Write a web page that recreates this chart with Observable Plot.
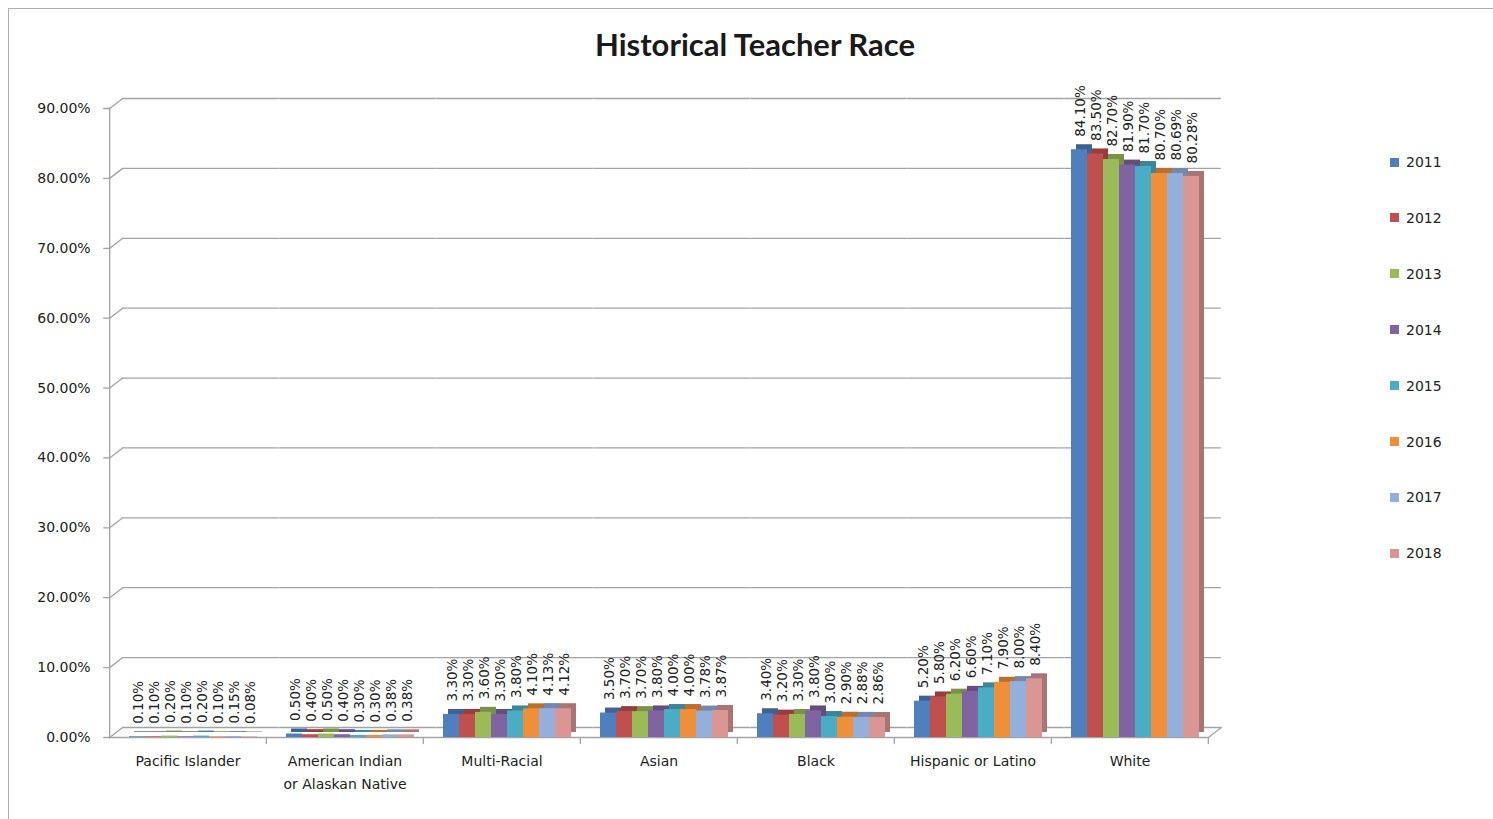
<!DOCTYPE html>
<html>
<head>
<meta charset="utf-8">
<script src="https://cdn.jsdelivr.net/npm/d3@7"></script>
<script src="https://cdn.jsdelivr.net/npm/@observablehq/plot@0.6"></script>
<style>
  html, body { margin: 0; padding: 0; background: #fff; }
  body { width: 1493px; height: 819px; position: relative; overflow: hidden; font-family: "DejaVu Sans", sans-serif; }
  #border { position: absolute; left: 8px; top: 8px; width: 1500px; height: 830px; border-left: 1px solid #b0b0b0; border-top: 1px solid #b0b0b0; }
  #chart { position: absolute; left: 0; top: 0; }
  #title { position: absolute; left: 0; width: 1510px; top: 25px; text-align: center; font-family: Lato, sans-serif; font-weight: bold; font-size: 31px; color: #1a1a1a; }
  #legend { position: absolute; left: 1390px; top: 154px; }
  .item { position: absolute; left: 0; display: flex; align-items: center; font-size: 14px; color: #222; white-space: nowrap; }
  .sw { width: 9px; height: 9px; margin-right: 7px; }
</style>
</head>
<body>
<div id="border"></div>
<div id="chart"></div>
<div id="title">Historical Teacher Race</div>
<div id="legend"></div>
<script>
// Teacher race shares (% of teachers) by year
const categories = ["Pacific Islander", "American Indian\nor Alaskan Native", "Multi-Racial", "Asian", "Black", "Hispanic or Latino", "White"];
const years = ["2011", "2012", "2013", "2014", "2015", "2016", "2017", "2018"];
const v2011 = [0.10, 0.50, 3.30, 3.50, 3.40, 5.20, 84.10];
const v2012 = [0.10, 0.40, 3.30, 3.70, 3.20, 5.80, 83.50];
const v2013 = [0.20, 0.50, 3.60, 3.70, 3.30, 6.20, 82.70];
const v2014 = [0.10, 0.40, 3.30, 3.80, 3.80, 6.60, 81.90];
const v2015 = [0.20, 0.30, 3.80, 4.00, 3.00, 7.10, 81.70];
const v2016 = [0.10, 0.30, 4.10, 4.00, 2.90, 7.90, 80.70];
const v2017 = [0.15, 0.38, 4.13, 3.78, 2.88, 8.00, 80.69];
const v2018 = [0.08, 0.38, 4.12, 3.87, 2.86, 8.40, 80.28];
const yTicks = [0, 10, 20, 30, 40, 50, 60, 70, 80, 90];
const colors = ["#4f7fbc", "#c0504d", "#9bbb59", "#8064a2", "#4bacc6", "#f08f3a", "#93afda", "#d99694"];

const series = [v2011, v2012, v2013, v2014, v2015, v2016, v2017, v2018];
const data = [];
years.forEach((yr, i) => categories.forEach((c, j) => data.push({category: c, year: yr, value: series[i][j]})));

const pct = d => d.toFixed(2) + "%";
const sideColors = colors.map(c => d3.color(c).darker(0.7).formatHex());
const line = {draw(ctx, l) { ctx.moveTo(0, 0); ctx.lineTo(0, -l); }};
const wall = "#a3a3a3";
const padIn = 0.15;
const step = (1493 - 107 - 283) / categories.length;
const half = padIn * step / 2; // half of the gap between category groups

const chart = Plot.plot({
  width: 1493,
  height: 819,
  marginTop: 108,
  marginBottom: 82,
  marginLeft: 107,
  marginRight: 283,
  style: {fontFamily: "DejaVu Sans, sans-serif", fontSize: "13px", color: "#222", background: "transparent"},
  fx: {domain: categories, paddingInner: padIn, paddingOuter: padIn / 2, label: null},
  x: {domain: years, padding: 0, axis: null},
  y: {domain: [0, 90], axis: null},
  color: {domain: years, range: colors},
  marks: [
    // back wall gridlines, offset for depth (each group's segment spans its gaps)
    Plot.ruleY(yTicks, {y: d => d, dx: 13, dy: -10, insetLeft: -half, insetRight: -half, stroke: wall, strokeWidth: 1.3}),
    Plot.vector(yTicks, {y: d => d, frameAnchor: "left", facetAnchor: "left", dx: -half, rotate: 52.4, length: 16.4, anchor: "start", shape: line, stroke: wall, strokeWidth: 1.3}),
    // floor front edge and right corner
    Plot.ruleY([0], {y: d => d, insetLeft: -half, insetRight: -half, stroke: wall, strokeWidth: 1.3}),
    Plot.vector([0], {y: d => d, frameAnchor: "right", facetAnchor: "right", dx: half, rotate: 52.4, length: 16.4, anchor: "start", shape: line, stroke: wall, strokeWidth: 1.3}),
    // value axis line, ticks and labels
    Plot.frame({anchor: "left", facetAnchor: "left", dx: -half, stroke: wall, strokeWidth: 1.3}),
    Plot.vector(yTicks, {y: d => d, frameAnchor: "left", facetAnchor: "left", dx: -half, rotate: -90, length: 6, anchor: "start", shape: line, stroke: wall, strokeWidth: 1.3}),
    Plot.text(yTicks, {y: d => d, text: pct, frameAnchor: "left", facetAnchor: "left", textAnchor: "end", dx: -half - 19, fontSize: 14, fill: "#222"}),
    // category separator ticks under the floor
    Plot.vector([0], {frameAnchor: "bottom-right", dx: half, rotate: 180, length: 6, anchor: "start", shape: line, stroke: wall, strokeWidth: 1.3}),
    // bar depth (top and side faces)
    Plot.rectY(data, {fx: "category", x: "year", y: "value", fill: d => sideColors[years.indexOf(d.year)], dx: 10, dy: -5}),
    // bar fronts
    Plot.rectY(data, {fx: "category", x: "year", y: "value", fill: "year", dx: 5}),
    // value labels
    Plot.text(data, {fx: "category", x: "year", y: "value", text: d => pct(d.value), rotate: -90, textAnchor: "start", dy: -13, dx: 6, fontSize: 13.5, fill: "#222"}),
    Plot.axisFx({anchor: "bottom", tickSize: 0, tickPadding: 13, fontSize: 14, lineHeight: 1.6, label: null, fill: "#222"})
  ]
});
document.getElementById("chart").append(chart);

// legend built from the chart's color scale
const scale = chart.scale("color");
const legend = document.getElementById("legend");
scale.domain.forEach((yr, i) => {
  const item = document.createElement("div");
  item.className = "item";
  item.style.top = (i * 55.9) + "px";
  const sw = document.createElement("span");
  sw.className = "sw";
  sw.style.background = scale.range[i];
  item.append(sw, document.createTextNode(yr));
  legend.append(item);
});
</script>
</body>
</html>
